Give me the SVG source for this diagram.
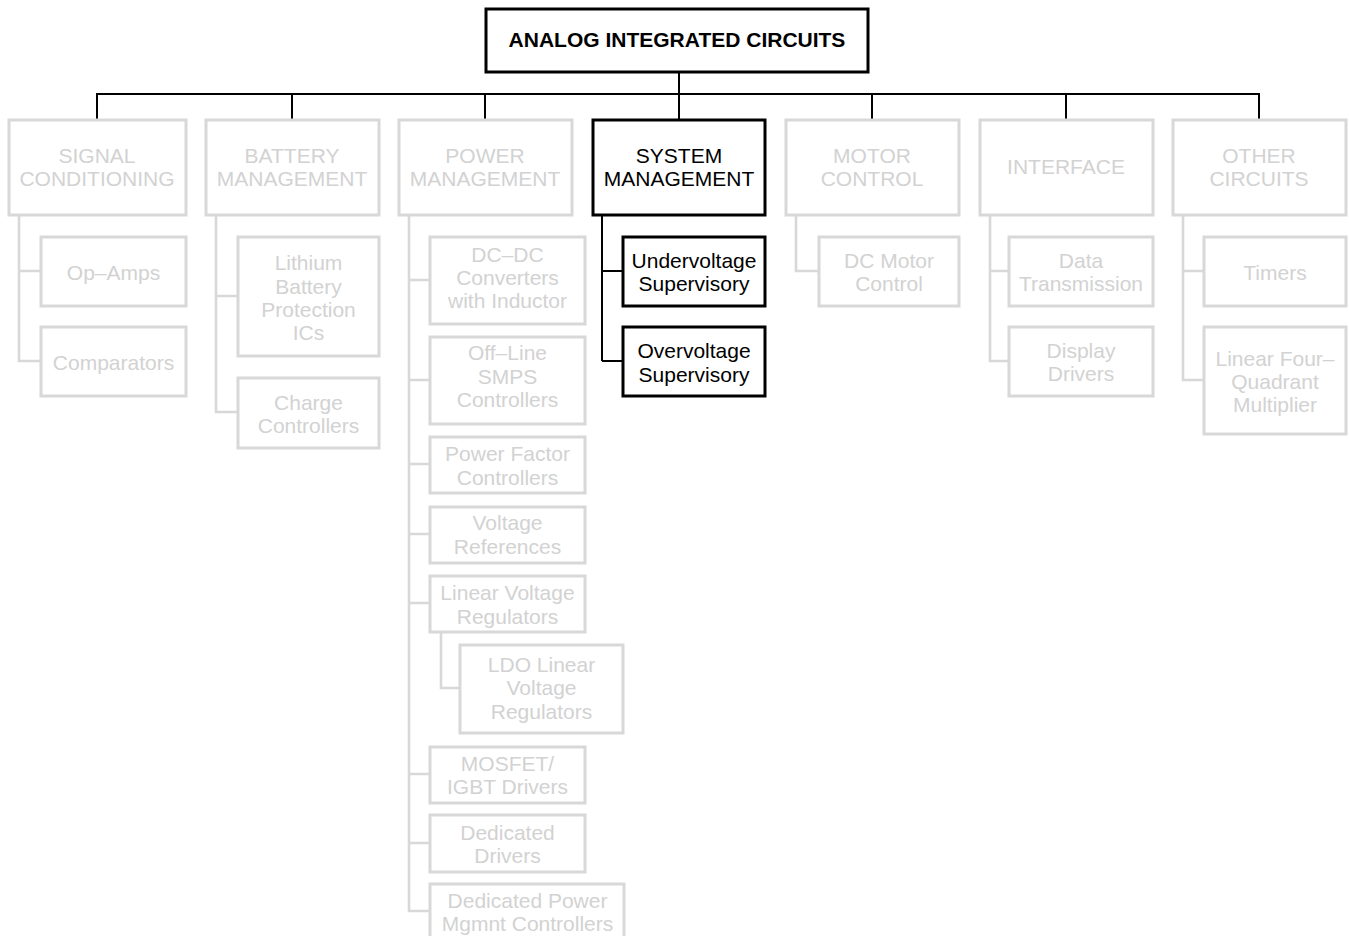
<svg xmlns="http://www.w3.org/2000/svg" width="1349" height="936" viewBox="0 0 1349 936">
<style>
text{font-family:"Liberation Sans",Arial,Helvetica,sans-serif;font-size:21px;text-anchor:middle}
.t{font-weight:bold;fill:#000}
.k{fill:#000}
.g{fill:#d2d2d2}
.bb{fill:#fff;stroke:#000;stroke-width:3}
.gb{fill:#fff;stroke:#d8d8d8;stroke-width:3}
.kc{fill:none;stroke:#000;stroke-width:2}
.gc{fill:none;stroke:#d8d8d8;stroke-width:2.6}
</style>
<rect width="1349" height="936" fill="#fff"/>
<g id="connectors">
<path class="kc" d="M679,72V119M97,94H1259M97,93V119M292,93V119M485,93V119M872,93V119M1066,93V119M1259,93V119"/>
<path class="kc" d="M602,215V361M602,271H622M602,361H622"/>
<path class="gc" d="M19,215V361H41M19,271H41"/>
<path class="gc" d="M216,215V412H238M216,296H238"/>
<path class="gc" d="M409,215V911H430M409,280H430M409,380H430M409,464H430M409,534H430M409,603H430M409,774H430M409,843H430"/>
<path class="gc" d="M441,632V688H460"/>
<path class="gc" d="M796,215V271H819"/>
<path class="gc" d="M990,215V361H1009M990,271H1009"/>
<path class="gc" d="M1183,215V380H1204M1183,271H1204"/>
</g>
<g id="root"><rect class="bb" x="486" y="9" width="382" height="63"/><text class="t" x="677" y="47">ANALOG INTEGRATED CIRCUITS</text></g>
<g id="signal"><rect class="gb" x="9" y="120" width="177" height="95"/><text class="g" x="97" y="163">SIGNAL</text><text class="g" x="97" y="186">CONDITIONING</text></g>
<g id="battery"><rect class="gb" x="206" y="120" width="173" height="95"/><text class="g" x="292" y="163">BATTERY</text><text class="g" x="292" y="186">MANAGEMENT</text></g>
<g id="power"><rect class="gb" x="399" y="120" width="173" height="95"/><text class="g" x="485" y="163">POWER</text><text class="g" x="485" y="186">MANAGEMENT</text></g>
<g id="system"><rect class="bb" x="593" y="120" width="172" height="95"/><text class="k" x="679" y="163">SYSTEM</text><text class="k" x="679" y="186">MANAGEMENT</text></g>
<g id="motor"><rect class="gb" x="786" y="120" width="173" height="95"/><text class="g" x="872" y="163">MOTOR</text><text class="g" x="872" y="186">CONTROL</text></g>
<g id="interface"><rect class="gb" x="980" y="120" width="173" height="95"/><text class="g" x="1066" y="174">INTERFACE</text></g>
<g id="other"><rect class="gb" x="1173" y="120" width="173" height="95"/><text class="g" x="1259" y="163">OTHER</text><text class="g" x="1259" y="186">CIRCUITS</text></g>
<g id="opamps"><rect class="gb" x="41" y="237" width="145" height="69"/><text class="g" x="113.5" y="280">Op–Amps</text></g>
<g id="comparators"><rect class="gb" x="41" y="327" width="145" height="69"/><text class="g" x="113.5" y="370">Comparators</text></g>
<g id="lithium"><rect class="gb" x="238" y="237" width="141" height="119"/><text class="g" x="308.5" y="270">Lithium</text><text class="g" x="308.5" y="293.5">Battery</text><text class="g" x="308.5" y="317">Protection</text><text class="g" x="308.5" y="340">ICs</text></g>
<g id="charge"><rect class="gb" x="238" y="378" width="141" height="70"/><text class="g" x="308.5" y="410">Charge</text><text class="g" x="308.5" y="433">Controllers</text></g>
<g id="dcdc"><rect class="gb" x="430" y="237" width="155" height="87"/><text class="g" x="507.5" y="262">DC–DC</text><text class="g" x="507.5" y="285">Converters</text><text class="g" x="507.5" y="308">with Inductor</text></g>
<g id="offline"><rect class="gb" x="430" y="337" width="155" height="87"/><text class="g" x="507.5" y="360">Off–Line</text><text class="g" x="507.5" y="384">SMPS</text><text class="g" x="507.5" y="407">Controllers</text></g>
<g id="pfc"><rect class="gb" x="430" y="437" width="155" height="56"/><text class="g" x="507.5" y="461">Power Factor</text><text class="g" x="507.5" y="485">Controllers</text></g>
<g id="vref"><rect class="gb" x="430" y="507" width="155" height="56"/><text class="g" x="507.5" y="530">Voltage</text><text class="g" x="507.5" y="554">References</text></g>
<g id="lvr"><rect class="gb" x="430" y="576" width="155" height="56"/><text class="g" x="507.5" y="600">Linear Voltage</text><text class="g" x="507.5" y="623.5">Regulators</text></g>
<g id="ldo"><rect class="gb" x="460" y="645" width="163" height="88"/><text class="g" x="541.5" y="672">LDO Linear</text><text class="g" x="541.5" y="695">Voltage</text><text class="g" x="541.5" y="718.5">Regulators</text></g>
<g id="mosfet"><rect class="gb" x="430" y="747" width="155" height="56"/><text class="g" x="507.5" y="771">MOSFET/</text><text class="g" x="507.5" y="794">IGBT Drivers</text></g>
<g id="dedicated"><rect class="gb" x="430" y="815" width="155" height="57"/><text class="g" x="507.5" y="839.5">Dedicated</text><text class="g" x="507.5" y="862.5">Drivers</text></g>
<g id="dpmc"><rect class="gb" x="430" y="884" width="194" height="60"/><text class="g" x="527.5" y="908">Dedicated Power</text><text class="g" x="527.5" y="931">Mgmnt Controllers</text></g>
<g id="undervoltage"><rect class="bb" x="623" y="237" width="142" height="69"/><text class="k" x="694" y="267.5">Undervoltage</text><text class="k" x="694" y="291">Supervisory</text></g>
<g id="overvoltage"><rect class="bb" x="623" y="327" width="142" height="69"/><text class="k" x="694" y="357.5">Overvoltage</text><text class="k" x="694" y="381.5">Supervisory</text></g>
<g id="dcmotor"><rect class="gb" x="819" y="237" width="140" height="69"/><text class="g" x="889" y="267.5">DC Motor</text><text class="g" x="889" y="291">Control</text></g>
<g id="data"><rect class="gb" x="1009" y="237" width="144" height="69"/><text class="g" x="1081" y="267.5">Data</text><text class="g" x="1081" y="291">Transmission</text></g>
<g id="display"><rect class="gb" x="1009" y="327" width="144" height="69"/><text class="g" x="1081" y="357.5">Display</text><text class="g" x="1081" y="381">Drivers</text></g>
<g id="timers"><rect class="gb" x="1204" y="237" width="142" height="69"/><text class="g" x="1275" y="280">Timers</text></g>
<g id="multiplier"><rect class="gb" x="1204" y="327" width="142" height="107"/><text class="g" x="1275" y="366">Linear Four–</text><text class="g" x="1275" y="389">Quadrant</text><text class="g" x="1275" y="412">Multiplier</text></g>
</svg>
